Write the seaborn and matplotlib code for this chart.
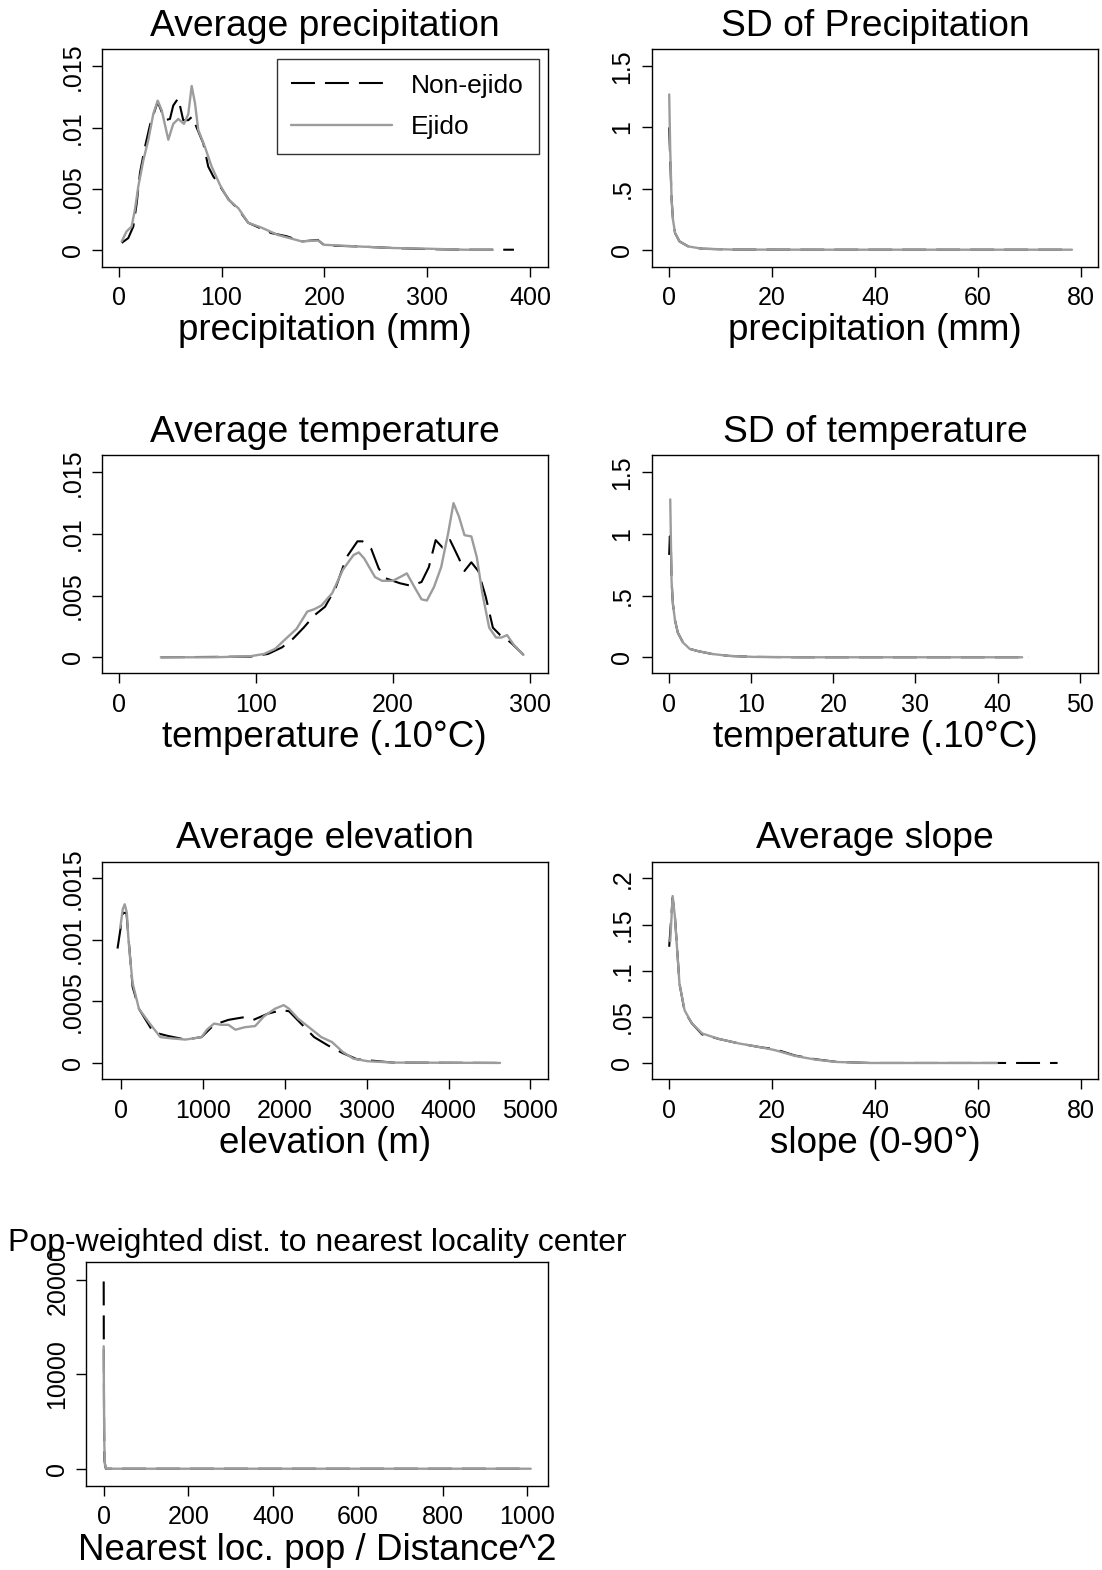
import matplotlib
matplotlib.use("Agg")
import numpy as np
import pandas as pd
import matplotlib.pyplot as plt
import seaborn as sns

# ---- data (kernel density curves) ----
precip_x_non = [3, 9.4, 14.3, 17.6, 20.8, 25.6, 30.5, 38, 45.1, 49.9, 53.1, 58, 62.8, 67.7, 71.6,
                75.8, 82.3, 87.1, 92, 98.5, 107, 116.3, 126, 148.4, 163.3, 177.9, 193.5, 200,
                232, 266, 301, 336, 384]
precip_y_non = [0.00056, 0.00095, 0.0019, 0.0038, 0.0063, 0.0084, 0.0102, 0.0121, 0.0106, 0.0107,
                0.0118, 0.0124, 0.0106, 0.0106, 0.0109, 0.01, 0.0087, 0.0068, 0.006, 0.0052,
                0.0041, 0.0033, 0.0022, 0.00136, 0.0011, 0.00068, 0.0008, 0.00035, 0.00027,
                0.00014, 0.00005, 0.0, 0.0]
precip_x_ej = [3, 7.8, 12.7, 15.9, 19.2, 24, 28.9, 33.7, 38, 41.9, 48.3, 53.1, 58, 63.5, 67.7,
               71, 74.2, 77.4, 83.9, 90.4, 98.5, 106.6, 116.3, 126, 139, 155, 177.9, 193.5,
               200, 232, 266, 301, 336, 363]
precip_y_ej = [0.00068, 0.0015, 0.0019, 0.0033, 0.0052, 0.0073, 0.009, 0.0111, 0.0122, 0.0114,
               0.009, 0.0103, 0.0107, 0.0103, 0.0111, 0.0134, 0.012, 0.0098, 0.0084, 0.0068,
               0.0053, 0.0041, 0.0034, 0.0022, 0.0018, 0.0012, 0.00068, 0.00076, 0.0004,
               0.00027, 0.00014, 0.00008, 0.0, 0.0]

sdp_x_non = [0, 0.15, 0.47, 0.74, 1.14, 2.0, 3.7, 6.4, 12.4, 30, 78]
sdp_y_non = [1.0, 0.8, 0.41, 0.245, 0.136, 0.068, 0.027, 0.008, 0.001, 0.0, 0.0]
sdp_x_ej = [0, 0.2, 0.47, 0.74, 1.14, 2.0, 3.7, 6.4, 12.4, 30, 78.3]
sdp_y_ej = [1.27, 0.815, 0.41, 0.245, 0.136, 0.068, 0.027, 0.008, 0.001, 0.0, 0.0]

temp_x_non = [30.7, 95.8, 108.8, 119, 127, 134.8, 142.6, 150.4, 158, 166, 174, 177.7, 184, 189.5,
              194.6, 205, 212.8, 220.7, 226, 231, 236, 241.5, 248, 252, 257, 262, 267.5, 272.7,
              278, 285.7, 295]
temp_y_non = [0.0, 0.00005, 0.00027, 0.0008, 0.0015, 0.0024, 0.0034, 0.0041, 0.0056, 0.0081,
              0.0094, 0.0094, 0.0088, 0.0072, 0.0064, 0.006, 0.0058, 0.0061, 0.0073, 0.0095,
              0.0089, 0.0095, 0.008, 0.007, 0.0077, 0.007, 0.0049, 0.0024, 0.0018, 0.0012, 0.0002]
temp_x_ej = [30.7, 69.7, 95.8, 106, 114, 121.8, 129.6, 137.4, 142.6, 147.8, 155.6, 163.4, 171.2,
             175, 179, 186.8, 192, 199.8, 205, 210, 215.5, 220.7, 224.6, 229.8, 235, 240, 244,
             248, 252, 257, 261, 265, 270, 275, 279, 283, 288, 295]
temp_y_ej = [0.0, 0.0, 0.00008, 0.00027, 0.00068, 0.0015, 0.0023, 0.0037, 0.0039, 0.0042, 0.0052,
             0.0071, 0.0083, 0.0085, 0.008, 0.0065, 0.0062, 0.0062, 0.0065, 0.0068, 0.0057,
             0.0047, 0.0046, 0.0057, 0.0073, 0.01, 0.0125, 0.0114, 0.0099, 0.0098, 0.0081,
             0.0052, 0.0024, 0.0016, 0.0016, 0.0018, 0.001, 0.0002]

sdt_x_non = [0.0, 0.08, 0.21, 0.29, 0.46, 0.71, 1.05, 1.68, 2.5, 3.56, 5.2, 7.3, 10.3, 16.1, 43.8]
sdt_y_non = [0.83, 0.98, 0.9, 0.62, 0.43, 0.3, 0.2, 0.12, 0.068, 0.049, 0.027, 0.011, 0.003, 0.0, 0.0]
sdt_x_ej = [0.13, 0.21, 0.29, 0.46, 0.71, 1.05, 1.68, 2.5, 3.56, 5.2, 7.3, 10.3, 16.1, 43]
sdt_y_ej = [1.28, 0.95, 0.62, 0.43, 0.3, 0.2, 0.12, 0.068, 0.049, 0.027, 0.011, 0.003, 0.0, 0.0]

elev_x_non = [-44, 22, 65, 140, 218, 393, 568, 786, 983, 1135, 1310, 1485, 1616, 1790, 1965,
              2052, 2183, 2358, 2533, 2707, 2882, 3319, 4629]
elev_y_non = [0.00093, 0.00122, 0.00122, 0.00062, 0.00044, 0.00025, 0.00022, 0.00019, 0.00021,
              0.00031, 0.00035, 0.00037, 0.00035, 0.0004, 0.00043, 0.00042, 0.00033, 0.00021,
              0.00014, 0.00008, 0.00003, 0.000003, 0.0]
elev_x_ej = [-10, 20, 44, 70, 87, 110, 140, 218, 350, 480, 611, 786, 983, 1048, 1135, 1223, 1310,
             1397, 1507, 1638, 1747, 1878, 1987, 2052, 2162, 2314, 2445, 2576, 2707, 2838, 3013,
             3319, 4629]
elev_y_ej = [0.0011, 0.00125, 0.00129, 0.00122, 0.00103, 0.00085, 0.00065, 0.00044, 0.00032,
             0.00021, 0.0002, 0.00019, 0.00021, 0.00027, 0.00032, 0.00031, 0.00031, 0.00027,
             0.00029, 0.0003, 0.00038, 0.00044, 0.00047, 0.00044, 0.00036, 0.00028, 0.00021,
             0.00017, 0.00009, 0.000035, 0.000014, 0.000003, 0.0]

slope_x_non = [0, 0.67, 1.1, 2, 3, 4.4, 6.4, 9.7, 13.7, 17.8, 20.5, 24.5, 28.5, 32.5, 39, 75.5]
slope_y_non = [0.126, 0.179, 0.16, 0.086, 0.056, 0.043, 0.031, 0.026, 0.021, 0.017, 0.015,
               0.008, 0.004, 0.0012, 0.0, 0.0]
slope_x_ej = [0.2, 0.67, 1.1, 2, 3, 4.4, 6.4, 9.7, 13.7, 17.8, 20.5, 24.5, 28.5, 32.5, 39, 63.7]
slope_y_ej = [0.132, 0.181, 0.159, 0.086, 0.057, 0.043, 0.032, 0.026, 0.021, 0.017, 0.014,
              0.0076, 0.0036, 0.0011, 0.0, 0.0]

pop_x_non = [0, 0.3, 1, 2, 5, 1005]
pop_y_non = [19800, 12000, 4000, 800, 0, 0]
pop_x_ej = [0, 0.5, 1.5, 3, 6, 1008]
pop_y_ej = [12950, 8000, 2500, 400, 0, 0]

titles = ["Average precipitation", "SD of Precipitation", "Average temperature",
          "SD of temperature", "Average elevation", "Average slope",
          "Pop-weighted dist. to nearest locality center"]
xlabels = ["precipitation (mm)", "precipitation (mm)", "temperature (.10\u00b0C)",
           "temperature (.10\u00b0C)", "elevation (m)", "slope (0-90\u00b0)",
           "Nearest loc. pop / Distance^2"]
xticks = [[0, 100, 200, 300, 400], [0, 20, 40, 60, 80], [0, 100, 200, 300],
          [0, 10, 20, 30, 40, 50], [0, 1000, 2000, 3000, 4000, 5000], [0, 20, 40, 60, 80],
          [0, 200, 400, 600, 800, 1000]]
yticks = [[0, .005, .01, .015], [0, .5, 1, 1.5], [0, .005, .01, .015], [0, .5, 1, 1.5],
          [0, .0005, .001, .0015], [0, .05, .1, .15, .2], [0, 10000, 20000]]
ylabels_txt = [["0", ".005", ".01", ".015"], ["0", ".5", "1", "1.5"],
               ["0", ".005", ".01", ".015"], ["0", ".5", "1", "1.5"],
               ["0", ".0005", ".001", ".0015"], ["0", ".05", ".1", ".15", ".2"],
               ["0", "10000", "20000"]]
series = [(precip_x_non, precip_y_non, precip_x_ej, precip_y_ej),
          (sdp_x_non, sdp_y_non, sdp_x_ej, sdp_y_ej),
          (temp_x_non, temp_y_non, temp_x_ej, temp_y_ej),
          (sdt_x_non, sdt_y_non, sdt_x_ej, sdt_y_ej),
          (elev_x_non, elev_y_non, elev_x_ej, elev_y_ej),
          (slope_x_non, slope_y_non, slope_x_ej, slope_y_ej),
          (pop_x_non, pop_y_non, pop_x_ej, pop_y_ej)]

# ---- layout (pixel boxes: left, right, top, bottom) and axis limits ----
W, H = 1102, 1570
boxes = [(101.8, 547.5, 49.3, 266.7), (651.6, 1098.2, 49.3, 266.7),
         (101.8, 547.5, 455, 673.3), (651.6, 1098.2, 455, 673.3),
         (101.8, 547.5, 861.7, 1079.3), (651.6, 1098.2, 861.7, 1079.3),
         (86.5, 548, 1262.3, 1486)]
xlims = [(-16.3, 416.6), (-3.42, 83.4), (-12.3, 312.5), (-2.14, 52.26),
         (-236, 5209), (-3.42, 83.4), (-40.6, 1048.8)]
ylims = [(-0.00139, 0.0164), (-0.139, 1.639), (-0.0013, 0.0164), (-0.13, 1.64),
         (-0.000133, 0.001636), (-0.0177, 0.2182), (-1827, 21827)]

sns.set_style("white")
plt.rcParams['font.family'] = ['Liberation Sans', 'DejaVu Sans']
plt.rcParams['text.color'] = 'black'
plt.rcParams['axes.labelcolor'] = 'black'
plt.rcParams['xtick.color'] = 'black'
plt.rcParams['ytick.color'] = 'black'

fig = plt.figure(figsize=(W / 100, H / 100), dpi=100)
gray = '#9c9c9c'
dash = (0, (11.5, 4.8))

for i in range(7):
    l, r, t, b = boxes[i]
    ax = fig.add_axes([l / W, 1 - b / H, (r - l) / W, (b - t) / H])
    xn, yn, xe, ye = series[i]
    sns.lineplot(x=xn, y=yn, ax=ax, color='black', linewidth=1.5, linestyle=dash,
                 estimator=None, sort=False, label='Non-ejido')
    sns.lineplot(x=xe, y=ye, ax=ax, color=gray, linewidth=1.7,
                 estimator=None, sort=False, label='Ejido')
    for ln in ax.get_lines():
        ln.set_solid_joinstyle('round')
        ln.set_dash_joinstyle('round')
    ax.set_xlim(*xlims[i])
    ax.set_ylim(*ylims[i])
    ax.set_xticks(xticks[i])
    ax.set_xticklabels([str(v) for v in xticks[i]])
    ax.set_yticks(yticks[i])
    ax.set_yticklabels(ylabels_txt[i], rotation=90, va='center')
    ax.tick_params(axis='both', direction='out', length=7.4, width=1.0, labelsize=18,
                   color='black', labelcolor='black', left=True, bottom=True)
    ax.tick_params(axis='x', pad=6.5)
    ax.tick_params(axis='y', pad=5)
    for s in ax.spines.values():
        s.set_visible(True)
        s.set_color('black')
        s.set_linewidth(1.0)
    ax.set_xlabel(xlabels[i], fontsize=26.5, labelpad=2.5, color='black')
    ax.set_ylabel('')
    if i == 6:
        ax.set_title(titles[i], fontsize=23, pad=8.4, color='black')
    else:
        ax.set_title(titles[i], fontsize=26.8, pad=9.6, color='black')
    if i == 0:
        leg = ax.legend(loc='upper right', bbox_to_anchor=(0.98, 0.955), borderaxespad=0,
                        fontsize=19, frameon=True, fancybox=False, handlelength=3.8,
                        handletextpad=0.75, labelspacing=0.66, borderpad=0.55)
        leg.get_frame().set_edgecolor('black')
        leg.get_frame().set_linewidth(1.0)
        for txt in leg.get_texts():
            txt.set_color('black')
    else:
        lg = ax.get_legend()
        if lg is not None:
            lg.remove()

fig.savefig('out.png', dpi=100, facecolor='white')
